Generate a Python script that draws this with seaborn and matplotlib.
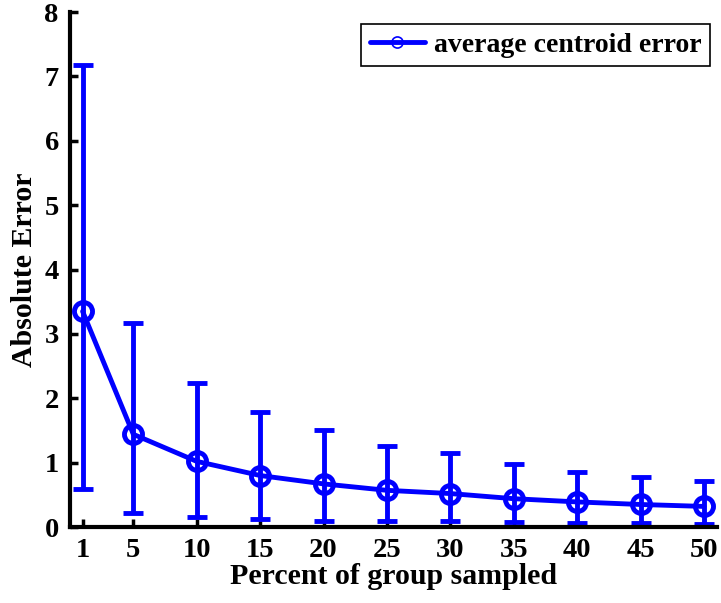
import pandas as pd
import seaborn as sns
import matplotlib.pyplot as plt

pct = [1, 5, 10, 15, 20, 25, 30, 35, 40, 45, 50]
err_mean = [3.35, 1.44, 1.02, 0.80, 0.67, 0.57, 0.52, 0.44, 0.39, 0.35, 0.32]
err_hi = [7.18, 3.17, 2.24, 1.78, 1.51, 1.26, 1.15, 0.98, 0.86, 0.78, 0.71]
err_lo = [0.59, 0.22, 0.16, 0.13, 0.10, 0.10, 0.10, 0.08, 0.07, 0.07, 0.05]

df = pd.DataFrame({'pct': pct, 'mean': err_mean, 'hi': err_hi, 'lo': err_lo})

sns.set_style('ticks', {'axes.edgecolor': 'black', 'text.color': 'black',
                        'xtick.color': 'black', 'ytick.color': 'black',
                        'axes.labelcolor': 'black'})
plt.rcParams['font.family'] = ['Liberation Serif', 'DejaVu Serif']
plt.rcParams['font.weight'] = 'bold'

fig = plt.figure(figsize=(7.21, 6.03), dpi=100)
ax = fig.add_axes([0.097, 0.126, 0.897, 0.854])

blue = '#0000ff'
# barras de erro assimetricas (min/max) desenhadas pelo matplotlib
ax.errorbar(df['pct'], df['mean'],
            yerr=[df['mean'] - df['lo'], df['hi'] - df['mean']],
            fmt='none', ecolor=blue, elinewidth=3.5, capsize=7, capthick=3.5, zorder=2)
sns.lineplot(data=df, x='pct', y='mean', ax=ax, color=blue, linewidth=3.5,
             marker='o', markersize=13, markerfacecolor='none',
             markeredgecolor=blue, markeredgewidth=3.5, zorder=3,
             label='average centroid error')

ax.set_xlim(0, 51)
ax.set_ylim(0, 8)
ax.set_xticks(pct)
ax.set_yticks(range(9))
ax.tick_params(direction='in', length=6, width=2.5, labelsize=20.5, pad=8,
               colors='black')
for lab in ax.get_xticklabels() + ax.get_yticklabels():
    lab.set_fontweight('bold')
for side in ['top', 'right']:
    ax.spines[side].set_visible(False)
for side in ['left', 'bottom']:
    ax.spines[side].set_linewidth(3)
    ax.spines[side].set_color('black')
ax.set_xlabel('Percent of group sampled', fontsize=21.5, fontweight='bold',
              labelpad=0, color='black')
ax.set_ylabel('Absolute Error', fontsize=21.5, fontweight='bold',
              labelpad=5, color='black')

leg = ax.legend(loc='upper right', bbox_to_anchor=(0.989, 0.977), borderaxespad=0,
                fancybox=False, edgecolor='black', framealpha=1,
                prop={'size': 20, 'weight': 'bold'}, handlelength=2.0,
                borderpad=0.3, handletextpad=0.3)
for t in leg.get_texts():
    t.set_color('black')
for h in leg.legend_handles:
    h.set_markersize(8)
    h.set_markeredgewidth(1.2)
leg.get_frame().set_linewidth(1.2)

fig.savefig('out.png', dpi=100)
